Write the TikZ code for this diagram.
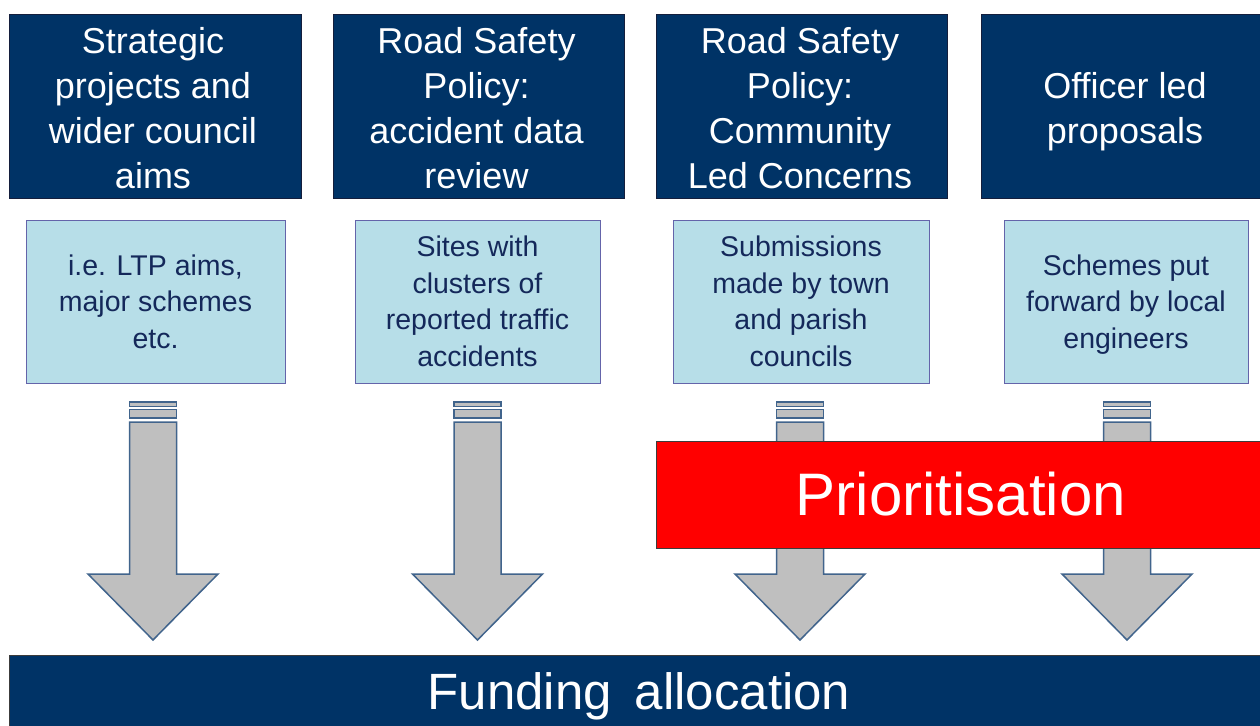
\documentclass[tikz,border=0pt]{standalone}
\usepackage{fontspec}
\setmainfont{Liberation Sans}
\definecolor{navy}{RGB}{0,51,102}
\definecolor{navyline}{RGB}{20,30,60}
\definecolor{lightfill}{RGB}{183,222,232}
\definecolor{lightline}{RGB}{100,100,170}
\definecolor{lighttext}{RGB}{20,40,90}
\definecolor{arrowfill}{RGB}{191,191,191}
\definecolor{arrowline}{RGB}{65,100,140}
\definecolor{redfill}{RGB}{255,0,0}
\definecolor{redline}{RGB}{60,60,60}
\tikzset{
  hdr/.style={draw=navyline, line width=0.8pt, fill=navy, inner sep=0pt, minimum height=184},
  hdrtext/.style={text=white, align=center, inner sep=0pt, font=\fontsize{36}{45}\selectfont},
  lbox/.style={draw=lightline, line width=1pt, fill=lightfill, text=lighttext, align=center, inner sep=0pt,
    minimum height=163, font=\fontsize{28.5}{36.5}\selectfont},
  arr/.style={draw=arrowline, line width=1.5pt, fill=arrowfill, line join=miter},
  pics/downarrow/.style={code={
    \path[arr] (-23.5,402) rectangle (23.5,406.5);
    \path[arr] (-23.5,409.5) rectangle (23.5,418);
    \path[arr] (-23.5,422) -- (-23.5,574) -- (-65,574) -- (0,640) -- (65,574) -- (23.5,574) -- (23.5,422) -- cycle;
  }}
}
\begin{document}
\begin{tikzpicture}[x=1pt,y=-1pt]
\useasboundingbox (0,0) rectangle (1260,725);
\clip (0,0) rectangle (1260,725);
% header boxes
\node[hdr, minimum width=292] (h1) at (155,106) {};
\node[hdr, minimum width=291] (h2) at (478.5,106) {};
\node[hdr, minimum width=291] (h3) at (801.5,106) {};
\node[hdr, minimum width=286] (h4) at (1124,106) {};
\node[hdrtext] (t1) at (153,108) {Strategic\\projects and\\wider council\\aims};
\node[hdrtext] (t2) at (476.5,108) {Road Safety\\Policy:\\accident data\\review};
\node[hdrtext] (t3) at (800,108) {Road Safety\\Policy:\\Community\\Led Concerns};
\node[hdrtext] (t4) at (1125,112) {Officer led\\proposals};
% light boxes
\node[lbox, minimum width=259] (l1) at (155.5,301.5) {i.e. LTP aims,\\major schemes\\etc.};
\node[lbox, minimum width=245] (l2) at (477.5,301.5) {Sites with\\clusters of\\reported traffic\\accidents};
\node[lbox, minimum width=256] (l3) at (801,301.5) {Submissions\\made by town\\and parish\\councils};
\node[lbox, minimum width=244] (l4) at (1126,301.5) {};
\node[text=lighttext, align=center, inner sep=0pt, font=\fontsize{28.5}{36.5}\selectfont] (l4t) at (1126,304.5) {Schemes put\\forward by local\\engineers};
% arrows
\pic at (153,0) {downarrow};
\pic at (477.5,0) {downarrow};
\pic at (800,0) {downarrow};
\pic at (1127,0) {downarrow};
% prioritisation
\node[draw=redline, line width=1pt, fill=redfill, minimum width=610, minimum height=107, inner sep=0pt] (pr) at (961,494.5) {};
\node[text=white, font=\fontsize{60}{72}\selectfont, inner sep=0pt] (prt) at (961,494) {Prioritisation};
% funding
\node[draw=redline, line width=0.8pt, fill=navy, minimum width=1260, minimum height=90, inner sep=0pt] (fa) at (639,700) {};
\node[text=white, font=\fontsize{51}{60}\selectfont, inner sep=0pt] (fat) at (639,696) {Funding\hspace{0.45em}allocation};
\end{tikzpicture}
\end{document}
